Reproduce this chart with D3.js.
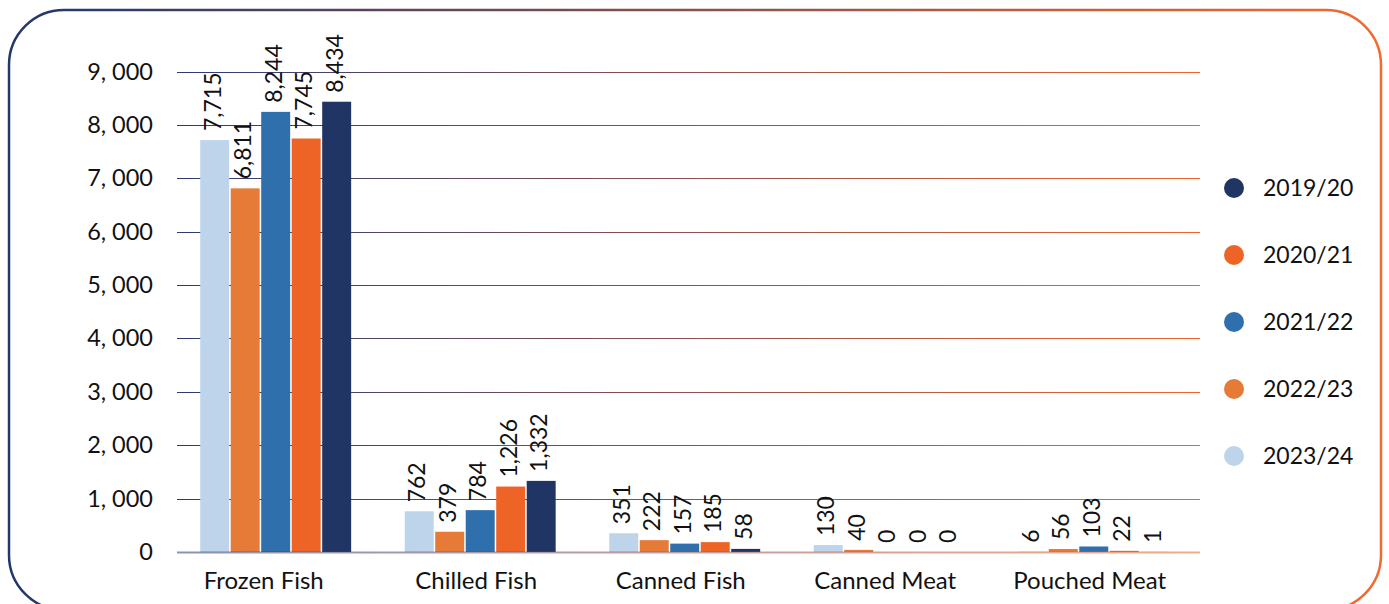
<!DOCTYPE html>
<html>
<head>
<meta charset="utf-8">
<script src="https://cdn.jsdelivr.net/npm/d3@7"></script>
<style>
  html, body { margin: 0; padding: 0; background: #fff; }
  svg { display: block; }
  text { font-family: Lato, "Noto Sans", sans-serif; fill: #111; }
</style>
</head>
<body>
<svg id="chart" width="1389" height="604"></svg>
<script>
// Product categories along the x axis
const categories = ["Frozen Fish", "Chilled Fish", "Canned Fish", "Canned Meat", "Pouched Meat"];

// Financial years, in the order the bars sit inside each group
const years = ["2023/24", "2022/23", "2021/22", "2020/21", "2019/20"];
const yearColors = ["#BDD4EA", "#E57B37", "#2E6FAC", "#EE6426", "#213565"];

// Values per year, one entry per category
const v2023_24 = [7715, 762, 351, 130, 6];
const v2022_23 = [6811, 379, 222, 40, 56];
const v2021_22 = [8244, 784, 157, 0, 103];
const v2020_21 = [7745, 1226, 185, 0, 22];
const v2019_20 = [8434, 1332, 58, 0, 1];
const seriesValues = [v2023_24, v2022_23, v2021_22, v2020_21, v2019_20];

// Y axis ticks
const yTicks = [0, 1000, 2000, 3000, 4000, 5000, 6000, 7000, 8000, 9000];

const svg = d3.select("#chart");
const defs = svg.append("defs");

// Horizontal navy-to-orange gradient used for the frame and the grid
function hGradient(id, x1, x2, from, to) {
  const g = defs.append("linearGradient")
    .attr("id", id)
    .attr("gradientUnits", "userSpaceOnUse")
    .attr("x1", x1).attr("x2", x2).attr("y1", 0).attr("y2", 0);
  g.append("stop").attr("offset", "0%").attr("stop-color", from);
  g.append("stop").attr("offset", "100%").attr("stop-color", to);
}
hGradient("frameGrad", 9, 1381, "#22386c", "#f26a2e");
hGradient("gridGrad", 177, 1200, "#2c3b72", "#f0652c");

// Rounded frame
svg.append("rect")
  .attr("x", 9).attr("y", 10)
  .attr("width", 1372).attr("height", 600)
  .attr("rx", 55).attr("ry", 55)
  .attr("fill", "none")
  .attr("stroke", "url(#frameGrad)")
  .attr("stroke-width", 2.5);

// Scales
const x0 = d3.scaleBand()
  .domain(categories)
  .range([177, 1200])
  .paddingInner(0.262)
  .paddingOuter(0.132)
  .align(0.43);

const x1 = d3.scaleBand()
  .domain(years)
  .range([0, x0.bandwidth()])
  .paddingInner(0.05);

const y = d3.scaleLinear()
  .domain([0, 9000])
  .range([552, 71.5]);

// Grid lines
const grid = svg.append("g");
grid.selectAll("line")
  .data(yTicks.filter(t => t > 0))
  .join("line")
  .attr("x1", 177).attr("x2", 1200)
  .attr("y1", d => Math.round(y(d)) + 0.5)
  .attr("y2", d => Math.round(y(d)) + 0.5)
  .attr("stroke", "url(#gridGrad)")
  .attr("stroke-width", 1.2);

// Y axis labels ("9, 000" style)
const fmt = d => d === 0 ? "0" : d3.format(",")(d).replace(",", ", ");
const yAxis = d3.axisLeft(y).tickValues(yTicks).tickFormat(fmt).tickSize(0).tickPadding(24);
const yg = svg.append("g").attr("transform", "translate(177,0)").call(yAxis);
yg.select(".domain").remove();
yg.selectAll("text")
  .attr("font-size", 23.5)
  .attr("font-family", "Lato, 'Noto Sans', sans-serif")
  .attr("fill", "#111");

// Bars
const groups = svg.append("g").selectAll("g")
  .data(categories)
  .join("g")
  .attr("transform", d => `translate(${x0(d)},0)`);

groups.selectAll("rect")
  .data((c, ci) => years.map((yr, si) => ({ yr, si, value: seriesValues[si][ci] })))
  .join("rect")
  .attr("x", d => x1(d.yr))
  .attr("width", x1.bandwidth())
  .attr("y", d => y(d.value))
  .attr("height", d => y(0) - y(d.value))
  .attr("fill", d => yearColors[d.si]);

// Baseline
svg.append("line")
  .attr("x1", 177).attr("x2", 1200)
  .attr("y1", y(0) + 0.5).attr("y2", y(0) + 0.5)
  .attr("stroke", "url(#gridGrad)")
  .attr("stroke-opacity", 0.55)
  .attr("stroke-width", 2);

// Value labels, rotated above each bar
groups.selectAll("text.val")
  .data((c, ci) => years.map((yr, si) => ({ yr, si, value: seriesValues[si][ci] })))
  .join("text")
  .attr("class", "val")
  .attr("transform", d => `translate(${x1(d.yr) + x1.bandwidth() / 2 + 6},${y(d.value) - 9}) rotate(-90)`)
  .attr("font-size", 23)
  .text(d => d3.format(",")(d.value));

// Category labels
const xAxis = d3.axisBottom(x0).tickSize(0).tickPadding(20);
const xg = svg.append("g").attr("transform", `translate(0,${y(0)})`).call(xAxis);
xg.select(".domain").remove();
xg.selectAll("text")
  .attr("font-size", 24)
  .attr("font-family", "Lato, 'Noto Sans', sans-serif")
  .attr("fill", "#111")
  .attr("dx", (d, i) => i === 0 ? -12 : -4);

// Legend, newest year at the bottom
const legendOrder = years.map((yr, i) => ({ yr, color: yearColors[i] })).reverse();
const legend = svg.append("g").selectAll("g")
  .data(legendOrder)
  .join("g")
  .attr("transform", (d, i) => `translate(1234,${188 + i * 67})`);
legend.append("circle").attr("r", 10).attr("fill", d => d.color);
legend.append("text")
  .attr("x", 29).attr("dy", "0.35em")
  .attr("font-size", 23)
  .text(d => d.yr);
</script>
</body>
</html>
